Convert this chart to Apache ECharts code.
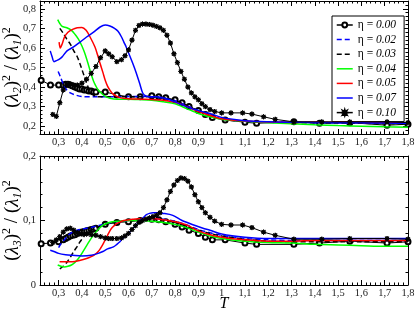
<!DOCTYPE html>
<html><head><meta charset="utf-8">
<script src="https://cdn.jsdelivr.net/npm/echarts@6/dist/echarts.min.js"></script>
<style>html,body{margin:0;padding:0;background:#fff}#c{width:415px;height:310px}</style>
</head><body><div id="c"></div>
<script>
// ---------- tick labels ----------
const xMajorTicks = [0.3,0.4,0.5,0.6,0.7,0.8,0.9,1.0,1.1,1.2,1.3,1.4,1.5,1.6,1.7,1.8];
const topYMajorTicks = [0.2,0.3,0.4,0.5,0.6,0.7,0.8];
const botYMajorTicks = [0,0.1,0.2];

// ---------- series names ----------
const etaNames = ['η = 0.00','η = 0.02','η = 0.03','η = 0.04','η = 0.05','η = 0.07','η = 0.10'];

// ---------- top panel: (λ2)^2/(λ1)^2 ----------
const T_top_000 = [0.225,0.265,0.30,0.32,0.33,0.34,0.35,0.36,0.37,0.38,0.39,0.40,0.41,0.42,0.43,0.44,0.45,0.46,0.50,0.55,0.60,0.65,0.70,0.73,0.76,0.80,0.83,0.86,0.90,0.93,0.96,1.015,1.10,1.15,1.31,1.42,1.55,1.71,1.80];
const L2_000 = [0.435,0.41,0.41,0.41,0.415,0.415,0.41,0.405,0.40,0.395,0.39,0.39,0.385,0.385,0.38,0.38,0.375,0.375,0.375,0.36,0.35,0.35,0.355,0.35,0.345,0.335,0.32,0.30,0.28,0.26,0.245,0.232,0.22,0.215,0.222,0.215,0.218,0.205,0.21];

const T_top_002 = [0.298,0.31,0.32,0.335,0.35,0.37,0.40,0.45,0.50,0.55,0.60,0.65,0.70,0.75,0.80,0.85,0.90,0.95,1.0,1.1,1.2,1.3,1.4,1.5,1.6,1.7,1.8];
const L2_002 = [0.48,0.445,0.415,0.385,0.37,0.36,0.352,0.35,0.35,0.35,0.352,0.352,0.35,0.342,0.33,0.305,0.28,0.255,0.238,0.225,0.222,0.22,0.218,0.218,0.217,0.216,0.215];

const T_top_003 = [0.305,0.32,0.335,0.35,0.365,0.38,0.39,0.40,0.41,0.42,0.43,0.44,0.45,0.46,0.48,0.50,0.55,0.60,0.65,0.70,0.75,0.80,0.85,0.90,0.95,1.0,1.1,1.2,1.3,1.4,1.5,1.6,1.7,1.8];
const L2_003 = [0.70,0.675,0.645,0.62,0.585,0.555,0.525,0.49,0.455,0.42,0.39,0.37,0.358,0.352,0.35,0.35,0.35,0.35,0.35,0.352,0.345,0.33,0.305,0.278,0.255,0.236,0.224,0.22,0.218,0.217,0.216,0.215,0.213,0.212];

const T_top_004 = [0.296,0.305,0.315,0.335,0.355,0.37,0.385,0.40,0.41,0.42,0.43,0.44,0.45,0.46,0.47,0.485,0.50,0.52,0.55,0.60,0.65,0.70,0.75,0.80,0.85,0.90,0.95,1.0,1.1,1.2,1.3,1.4,1.5,1.6,1.7,1.8];
const L2_004 = [0.745,0.725,0.71,0.703,0.69,0.67,0.645,0.61,0.58,0.545,0.505,0.465,0.43,0.405,0.385,0.367,0.352,0.343,0.338,0.338,0.336,0.333,0.325,0.315,0.29,0.265,0.248,0.235,0.225,0.218,0.212,0.207,0.203,0.2,0.197,0.195];

const T_top_005 = [0.302,0.307,0.315,0.325,0.34,0.36,0.38,0.40,0.418,0.435,0.456,0.467,0.478,0.49,0.50,0.51,0.52,0.53,0.542,0.563,0.60,0.65,0.70,0.75,0.80,0.85,0.90,0.95,1.0,1.1,1.2,1.3,1.4,1.5,1.6,1.7,1.8];
const L2_005 = [0.63,0.60,0.62,0.655,0.68,0.695,0.703,0.705,0.69,0.656,0.605,0.565,0.52,0.475,0.435,0.405,0.384,0.368,0.358,0.346,0.34,0.338,0.336,0.333,0.322,0.30,0.275,0.255,0.238,0.226,0.221,0.219,0.221,0.22,0.219,0.218,0.217];

const T_top_007 = [0.264,0.272,0.28,0.29,0.30,0.314,0.336,0.364,0.392,0.42,0.45,0.478,0.50,0.52,0.54,0.555,0.57,0.58,0.59,0.60,0.613,0.625,0.634,0.648,0.662,0.677,0.70,0.72,0.76,0.80,0.86,0.92,0.95,1.0,1.1,1.2,1.3,1.4,1.5,1.6,1.7,1.8];
const L2_007 = [0.585,0.555,0.53,0.535,0.54,0.553,0.585,0.605,0.63,0.656,0.681,0.707,0.717,0.712,0.70,0.685,0.656,0.63,0.605,0.575,0.537,0.50,0.469,0.418,0.367,0.353,0.35,0.35,0.341,0.324,0.295,0.273,0.265,0.245,0.228,0.222,0.22,0.219,0.218,0.217,0.216,0.215];

const T_010 = [0.275,0.29,0.305,0.32,0.335,0.35,0.365,0.38,0.40,0.42,0.44,0.46,0.48,0.50,0.515,0.53,0.55,0.57,0.585,0.60,0.615,0.63,0.645,0.66,0.675,0.69,0.705,0.72,0.735,0.75,0.765,0.78,0.795,0.81,0.825,0.84,0.855,0.87,0.885,0.90,0.915,0.93,0.95,0.97,1.00,1.04,1.09,1.13,1.18,1.23,1.31,1.43,1.55,1.71,1.80];
const L2_010 = [0.26,0.25,0.32,0.385,0.41,0.415,0.41,0.41,0.42,0.44,0.47,0.505,0.55,0.585,0.57,0.555,0.53,0.54,0.56,0.59,0.64,0.69,0.715,0.722,0.722,0.72,0.716,0.71,0.703,0.69,0.665,0.625,0.57,0.525,0.48,0.44,0.40,0.37,0.35,0.335,0.315,0.30,0.285,0.275,0.268,0.268,0.268,0.262,0.248,0.235,0.222,0.222,0.222,0.222,0.218];

// ---------- bottom panel: (λ3)^2/(λ1)^2 ----------
const L3_000 = [0.064,0.065,0.067,0.07,0.072,0.074,0.076,0.077,0.078,0.08,0.081,0.082,0.083,0.084,0.085,0.086,0.087,0.088,0.094,0.097,0.098,0.10,0.102,0.101,0.098,0.094,0.09,0.085,0.08,0.074,0.07,0.07,0.065,0.063,0.063,0.065,0.068,0.065,0.067];

const T_bot_002 = [0.30,0.31,0.325,0.34,0.36,0.38,0.42,0.46,0.50,0.55,0.60,0.65,0.70,0.75,0.80,0.85,0.90,0.95,1.0,1.1,1.2,1.3,1.4,1.5,1.6,1.7,1.8];
const L3_002 = [0.058,0.064,0.07,0.077,0.082,0.085,0.088,0.091,0.095,0.098,0.10,0.102,0.103,0.102,0.099,0.093,0.086,0.081,0.077,0.072,0.07,0.069,0.069,0.069,0.069,0.069,0.069];

const T_bot_003 = [0.305,0.32,0.335,0.35,0.365,0.38,0.39,0.40,0.41,0.42,0.44,0.46,0.48,0.50,0.55,0.60,0.65,0.70,0.75,0.80,0.85,0.90,0.95,1.0,1.1,1.2,1.3,1.4,1.5,1.6,1.7,1.8];
const L3_003 = [0.025,0.029,0.035,0.043,0.052,0.06,0.066,0.071,0.076,0.08,0.085,0.088,0.091,0.094,0.098,0.10,0.102,0.103,0.101,0.097,0.091,0.085,0.08,0.076,0.071,0.068,0.067,0.067,0.067,0.067,0.067,0.067];

const T_bot_004 = [0.296,0.31,0.325,0.34,0.355,0.37,0.385,0.40,0.415,0.43,0.445,0.46,0.475,0.49,0.51,0.53,0.56,0.60,0.65,0.70,0.75,0.80,0.85,0.90,0.95,1.0,1.1,1.2,1.3,1.4,1.5,1.6,1.7,1.8];
const L3_004 = [0.031,0.029,0.028,0.029,0.031,0.035,0.041,0.049,0.058,0.067,0.075,0.082,0.088,0.093,0.096,0.098,0.099,0.10,0.10,0.099,0.097,0.094,0.089,0.082,0.076,0.072,0.068,0.066,0.065,0.063,0.062,0.061,0.06,0.06];

const T_bot_005 = [0.304,0.33,0.36,0.39,0.42,0.44,0.455,0.47,0.48,0.49,0.50,0.51,0.52,0.53,0.545,0.56,0.58,0.62,0.66,0.70,0.75,0.80,0.85,0.90,0.95,1.0,1.1,1.2,1.3,1.4,1.5,1.6,1.7,1.8];
const L3_005 = [0.036,0.036,0.036,0.038,0.041,0.044,0.047,0.052,0.057,0.063,0.07,0.077,0.084,0.089,0.094,0.097,0.10,0.102,0.103,0.103,0.101,0.098,0.093,0.084,0.078,0.074,0.07,0.068,0.068,0.069,0.069,0.069,0.069,0.069];

const T_bot_007 = [0.264,0.28,0.30,0.33,0.36,0.40,0.44,0.47,0.49,0.51,0.535,0.55,0.563,0.575,0.59,0.605,0.62,0.635,0.65,0.665,0.677,0.69,0.705,0.72,0.75,0.79,0.83,0.88,0.92,0.95,1.0,1.1,1.2,1.3,1.4,1.5,1.6,1.7,1.8];
const L3_007 = [0.054,0.052,0.049,0.047,0.046,0.045,0.046,0.049,0.052,0.056,0.059,0.063,0.067,0.072,0.077,0.082,0.088,0.094,0.10,0.105,0.109,0.111,0.112,0.112,0.111,0.108,0.10,0.093,0.088,0.085,0.079,0.074,0.072,0.072,0.072,0.072,0.072,0.072,0.072];

const L3_010 = [0.066,0.07,0.075,0.082,0.087,0.088,0.085,0.081,0.079,0.079,0.078,0.077,0.075,0.073,0.072,0.072,0.072,0.073,0.076,0.08,0.086,0.092,0.097,0.10,0.102,0.104,0.106,0.108,0.112,0.12,0.132,0.145,0.155,0.162,0.166,0.165,0.161,0.152,0.14,0.129,0.12,0.112,0.105,0.099,0.094,0.093,0.093,0.089,0.082,0.077,0.071,0.071,0.072,0.072,0.071];

// ---------- layout / style ----------
const X_MIN = 0.22, X_MAX = 1.8;
const TOP_MIN = 0.16, TOP_MAX = 0.84, BOT_MIN = 0, BOT_MAX = 0.2;
const SERIF = 'Liberation Serif';

function steps(a, b, s) { const r = []; for (let v = a; v <= b + 1e-9; v += s) r.push(+v.toFixed(4)); return r; }
const xMinorTicks = steps(0.22, 1.8, 0.02);
const topYMinorTicks = steps(0.16, 0.84, 0.02);
const botYMinorTicks = steps(0, 0.2, 0.02);

const fmt = v => String(+(+v).toFixed(2)).replace('.', ',');
const zip = (t, y) => t.map((x, i) => [x, y[i]]);

function starPath() {
  let d = 'path://';
  for (let i = 0; i < 16; i++) {
    const a = i * Math.PI / 8 - Math.PI / 2, r = i % 2 ? 0.45 : 1;
    d += (i ? 'L' : 'M') + (r * Math.cos(a)).toFixed(3) + ' ' + (r * Math.sin(a)).toFixed(3);
  }
  return d + 'Z';
}

function axisSet(dim, grid, min, max, majors, minors, labelOn, extra) {
  const base = { type: 'value', gridIndex: grid, min, max, splitLine: { show: false }, silent: true, nameMoveOverlap: false };
  const pos = dim === 'x' ? ['bottom', 'top'] : ['left', 'right'];
  const mk = (position, major, label) => Object.assign({}, base, {
    position,
    axisLine: { show: major, onZero: false, lineStyle: { color: '#000', width: 1 } },
    axisTick: { show: true, inside: true, length: major ? 5 : 2.5, customValues: major ? majors : minors, lineStyle: { color: '#000', width: 1 } },
    axisLabel: label ? { show: true, customValues: majors, formatter: fmt, fontFamily: SERIF, fontSize: 10.5, color: '#222', margin: dim === 'x' ? 3 : 4 } : { show: false }
  });
  const main = Object.assign(mk(pos[0], true, labelOn), extra || {});
  return [main, mk(pos[0], false, false), mk(pos[1], true, false), mk(pos[1], false, false)];
}

const yName = (k) => `{p|(}{l|λ}{s|${k}}{p|)}{u|2}{p| / (}{l|λ}{s|1}{p|)}{u|2}`;
const yRich = {
  p: { fontFamily: SERIF, fontSize: 19, lineHeight: 23, color: '#000' },
  l: { fontFamily: SERIF, fontSize: 19, fontStyle: 'italic', lineHeight: 23, color: '#000' },
  s: { fontFamily: SERIF, fontSize: 12, fontStyle: 'italic', lineHeight: 12, verticalAlign: 'bottom', color: '#000' },
  u: { fontFamily: SERIF, fontSize: 12, lineHeight: 12, verticalAlign: 'top', color: '#000' }
};
const yExtra = (k) => ({ name: yName(k), nameLocation: 'middle', nameGap: 16, nameRotate: 90, nameTextStyle: { rich: yRich } });

const xAxes = [
  ...axisSet('x', 0, X_MIN, X_MAX, xMajorTicks, xMinorTicks, true),
  ...axisSet('x', 1, X_MIN, X_MAX, xMajorTicks, xMinorTicks, true,
    { name: 'T', nameLocation: 'middle', nameGap: 11, nameTextStyle: { fontFamily: SERIF, fontSize: 16, fontStyle: 'italic', color: '#000', verticalAlign: 'top' } })
];
const yAxes = [
  ...axisSet('y', 0, TOP_MIN, TOP_MAX, topYMajorTicks, topYMinorTicks, true, yExtra(2)),
  ...axisSet('y', 1, BOT_MIN, BOT_MAX, botYMajorTicks, botYMinorTicks, true, yExtra(3))
];

const styles = [
  { color: '#000000', type: 'solid', width: 1, symbol: 'emptyCircle', size: 5, smooth: false },
  { color: '#0000ff', type: [5, 3], width: 1.5, symbol: 'none', smooth: 0.3 },
  { color: '#000000', type: [5, 3], width: 1.5, symbol: 'none', smooth: 0.3 },
  { color: '#00ff00', type: 'solid', width: 1.5, symbol: 'none', smooth: 0.3 },
  { color: '#ff0000', type: 'solid', width: 1.5, symbol: 'none', smooth: 0.3 },
  { color: '#0000ff', type: 'solid', width: 1.5, symbol: 'none', smooth: 0.3 },
  { color: '#000000', type: 'solid', width: 1, symbol: starPath(), size: 5, smooth: false }
];

const topData = [zip(T_top_000, L2_000), zip(T_top_002, L2_002), zip(T_top_003, L2_003), zip(T_top_004, L2_004), zip(T_top_005, L2_005), zip(T_top_007, L2_007), zip(T_010, L2_010)];
const botData = [zip(T_top_000, L3_000), zip(T_bot_002, L3_002), zip(T_bot_003, L3_003), zip(T_bot_004, L3_004), zip(T_bot_005, L3_005), zip(T_bot_007, L3_007), zip(T_010, L3_010)];

const series = [];
[topData, botData].forEach((set, g) => {
  set.forEach((data, i) => {
    const st = styles[i];
    series.push({
      type: 'line', name: etaNames[i], data,
      xAxisIndex: g * 4, yAxisIndex: g * 4,
      symbol: st.symbol, symbolSize: st.size || 4, showSymbol: st.symbol !== 'none',
      smooth: st.smooth, clip: true,
      lineStyle: { color: st.color, width: st.width, type: st.type },
      itemStyle: { color: st.color, borderColor: st.color, borderWidth: 1 },
      emphasis: { disabled: true }, z: 2 + i
    });
  });
});

const legendData = etaNames.map((n, i) => styles[i].symbol === 'none'
  ? { name: n, itemStyle: { opacity: 0 } }
  : { name: n });

const chart = echarts.init(document.getElementById('c'), null, { renderer: 'canvas' });
chart.setOption({
  animation: false,
  backgroundColor: '#fff',
  grid: [
    { left: 40, top: 1, width: 368, height: 133, outerBoundsMode: 'none', containLabel: false },
    { left: 40, top: 156, width: 368, height: 129, outerBoundsMode: 'none', containLabel: false }
  ],
  xAxis: xAxes,
  yAxis: yAxes,
  legend: {
    data: legendData, orient: 'vertical', left: 332, top: 16,
    backgroundColor: '#fff', borderColor: '#000', borderWidth: 1, borderRadius: 0,
    padding: [3, 8, 3, 4], itemWidth: 16, itemHeight: 6, itemGap: 2.6,
    lineStyle: { width: 1.5 },
    formatter: n => { const p = n.split(' = '); return `{e|${p[0]} = }{v|${p[1]}}`; },
    textStyle: { rich: {
      e: { fontFamily: SERIF, fontSize: 11.5, lineHeight: 10, color: '#000' },
      v: { fontFamily: SERIF, fontSize: 11.5, fontStyle: 'italic', lineHeight: 10, color: '#000' }
    } },
    selectedMode: false
  },
  series
});
</script></body></html>
